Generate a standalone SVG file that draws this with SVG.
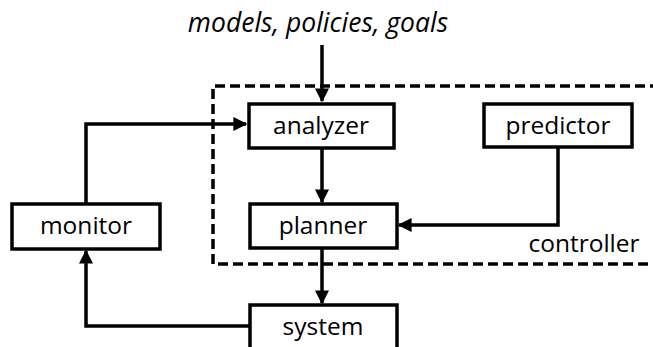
<svg xmlns="http://www.w3.org/2000/svg" width="653" height="347" viewBox="0 0 653 347">
  <style>
    .box { fill: #fff; stroke: #000; stroke-width: 3.5; }
    .lbl { font-family: "Open Sans", "Liberation Sans", sans-serif; font-size: 24.5px; fill: #000; text-anchor: middle; }
    .title { font-size: 26.5px; font-style: italic; }
    .wire { fill: none; stroke: #000; stroke-width: 3.5; }
    .frame { fill: none; stroke: #000; stroke-width: 3.5; stroke-dasharray: 10 5; }
  </style>
  <defs>
    <marker id="head" viewBox="0 0 10 10" refX="9" refY="5" markerWidth="4" markerHeight="4" orient="auto" markerUnits="strokeWidth">
      <path d="M0,0 L10,5 L0,10 z" fill="#000"/>
    </marker>
  </defs>
  <rect width="653" height="347" fill="#fff"/>

  <!-- controller boundary -->
  <g id="controller">
    <path class="frame" d="M660,86 H213 V264 H660"/>
    <text class="lbl" x="584" y="252">controller</text>
  </g>

  <text class="lbl title" x="318" y="32">models, policies, goals</text>

  <g id="connectors">
    <path class="wire" d="M322,45 V101" marker-end="url(#head)"/>
    <path class="wire" d="M322,148 V202" marker-end="url(#head)"/>
    <path class="wire" d="M322,248 V303" marker-end="url(#head)"/>
    <path class="wire" d="M558,147 V225 H399" marker-end="url(#head)"/>
    <path class="wire" d="M86,204 V124 H246" marker-end="url(#head)"/>
    <path class="wire" d="M250,326 H86 V251" marker-end="url(#head)"/>
  </g>

  <g id="analyzer">
    <rect class="box" x="249" y="104" width="145" height="44"/>
    <text class="lbl" x="321" y="134">analyzer</text>
  </g>
  <g id="predictor">
    <rect class="box" x="484" y="104" width="148" height="43"/>
    <text class="lbl" x="558" y="134">predictor</text>
  </g>
  <g id="planner">
    <rect class="box" x="250" y="204" width="147" height="44"/>
    <text class="lbl" x="323" y="234">planner</text>
  </g>
  <g id="monitor">
    <rect class="box" x="12" y="204" width="148" height="45"/>
    <text class="lbl" x="86" y="234">monitor</text>
  </g>
  <g id="system">
    <rect class="box" x="250" y="305" width="147" height="50"/>
    <text class="lbl" x="323" y="335">system</text>
  </g>
</svg>
